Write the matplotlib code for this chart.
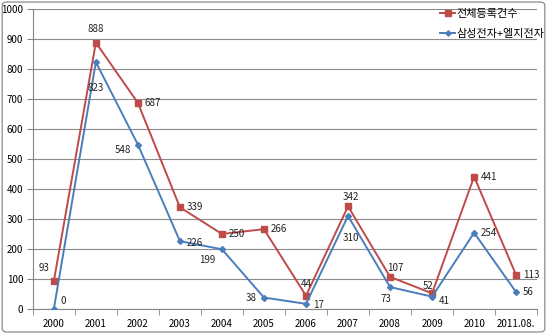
import matplotlib
matplotlib.use("Agg")
import matplotlib.pyplot as plt
from matplotlib.patches import FancyBboxPatch

plt.rcParams['font.family'] = ['Noto Sans CJK KR', 'DejaVu Sans']

categories = ['2000', '2001', '2002', '2003', '2004', '2005', '2006', '2007',
              '2008', '2009', '2010', '2011.08.']
total = [93, 888, 687, 339, 250, 266, 44, 342, 107, 52, 441, 113]
samsung_lg = [0, 823, 548, 226, 199, 38, 17, 310, 73, 41, 254, 56]
series_names = ['전체등록건수', '삼성전자+엘지전자']

red = '#BE4B48'
blue = '#4A7EBB'

fig = plt.figure(figsize=(5.47, 3.34), dpi=100)
fig.patches.append(FancyBboxPatch((0.004, 0.006), 0.992, 0.988,
                                  boxstyle='round,pad=0,rounding_size=0.01',
                                  transform=fig.transFigure, fill=False,
                                  edgecolor='#8c8c8c', linewidth=0.9))
ax = fig.add_axes([0.060, 0.075, 0.922, 0.898])

x = list(range(len(categories)))
ax.plot(x, total, color=red, lw=1.4, marker='s', ms=4.5, label=series_names[0], zorder=3)
ax.plot(x, samsung_lg, color=blue, lw=1.4, marker='D', ms=3, label=series_names[1], zorder=3)

ax.set_xlim(-0.5, len(categories) - 0.5)
ax.set_ylim(0, 1000)
ax.set_yticks(range(0, 1001, 100))
ax.set_xticks(x)
ax.set_xticklabels(categories)
ax.set_xticks([i - 0.5 for i in range(len(categories) + 1)], minor=True)
ax.tick_params(axis='x', which='major', length=0, pad=7, labelsize=7)
ax.tick_params(axis='x', which='minor', length=4, color='#868686')
ax.tick_params(axis='y', length=4, color='#868686', labelsize=7, pad=3)
ax.grid(axis='y', color='#8c8c8c', lw=0.8)
ax.set_axisbelow(True)
for s in ['top', 'right']:
    ax.spines[s].set_visible(False)
for s in ['left', 'bottom']:
    ax.spines[s].set_color('#868686')

# label offsets in points (dx, dy, ha, va)
red_off = [(-3, 6, 'right', 'bottom'), (0, 6, 'center', 'bottom'), (5, 0, 'left', 'center'),
           (5, 0, 'left', 'center'), (5, 0, 'left', 'center'), (5, 0, 'left', 'center'),
           (0, 5, 'center', 'bottom'), (2, 3, 'center', 'bottom'), (4, 3, 'center', 'bottom'),
           (-3, 2, 'center', 'bottom'), (5, 0, 'left', 'center'), (5, 0, 'left', 'center')]
blue_off = [(5, 6, 'left', 'center'), (0, -15, 'center', 'top'), (-5, -4, 'right', 'center'),
            (5, -1, 'left', 'center'), (-5, -8, 'right', 'center'), (-5, 0, 'right', 'center'),
            (5, -1, 'left', 'center'), (2, -12, 'center', 'top'), (-3, -5, 'center', 'top'),
            (5, -3, 'left', 'center'), (5, 0, 'left', 'center'), (5, 0, 'left', 'center')]
for i in x:
    dx, dy, ha, va = red_off[i]
    ax.annotate(str(total[i]), (i, total[i]), xytext=(dx, dy), textcoords='offset points',
                ha=ha, va=va, fontsize=7, color='#222222')
    dx, dy, ha, va = blue_off[i]
    ax.annotate(str(samsung_lg[i]), (i, samsung_lg[i]), xytext=(dx, dy), textcoords='offset points',
                ha=ha, va=va, fontsize=7, color='#222222')

leg = fig.legend(loc='upper left', bbox_to_anchor=(438 / 547, 1 - 7 / 334), frameon=False,
                 fontsize=8, handlelength=1.35, handletextpad=0.15, borderpad=0.2,
                 borderaxespad=0, labelspacing=0.85, markerscale=0.9)

fig.savefig('out.png', dpi=100)
